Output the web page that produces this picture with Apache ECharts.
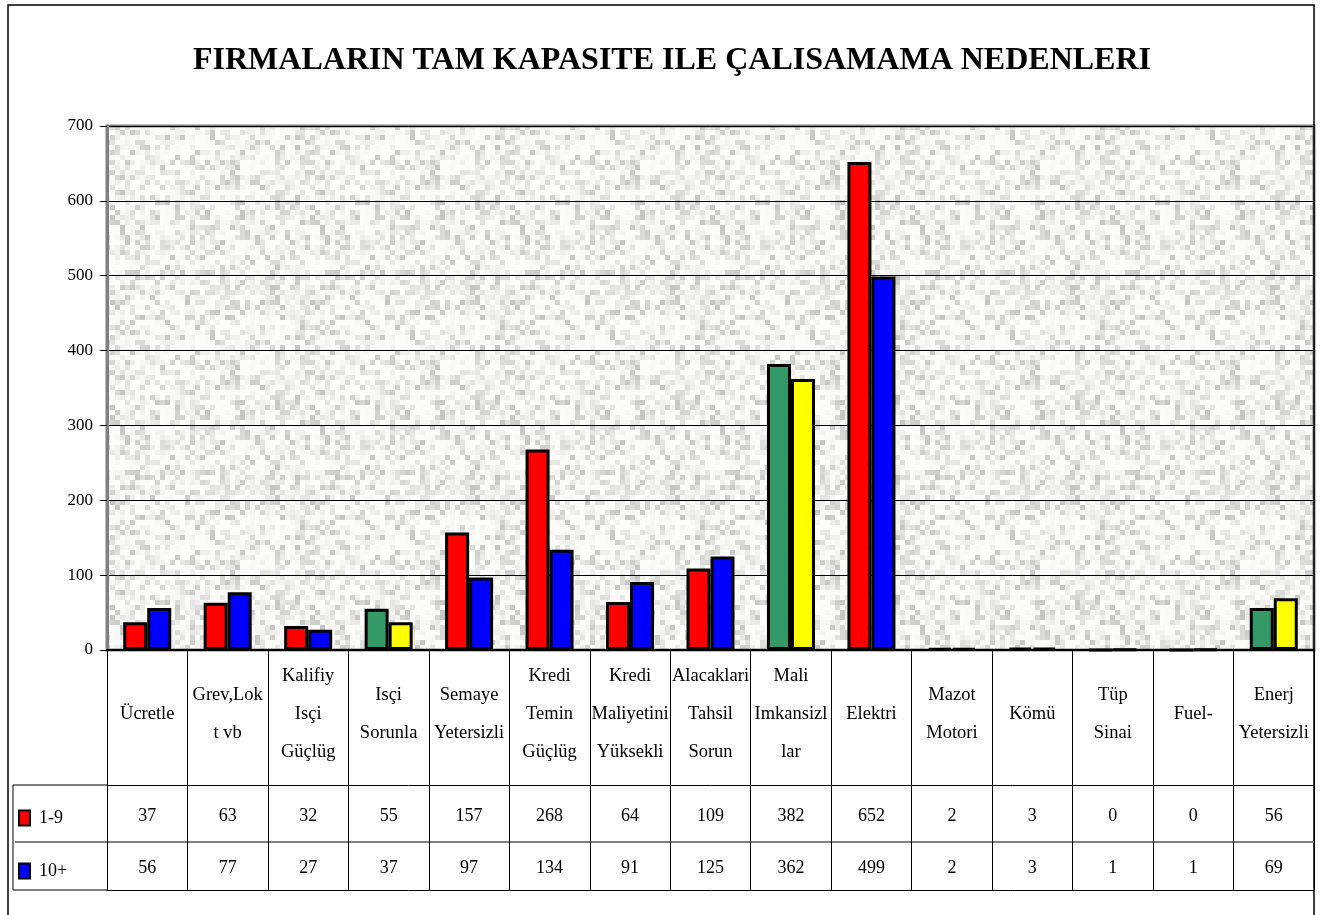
<!DOCTYPE html>
<html>
<head>
<meta charset="utf-8">
<script src="https://cdn.jsdelivr.net/npm/echarts@6/dist/echarts.min.js"></script>
<style>
  html, body { margin: 0; padding: 0; background: #fff; }
  #chart { width: 1323px; height: 915px; }
</style>
</head>
<body>
<div id="chart"></div>
<script>
// category labels, clipped the same way as in the source table
const categories = [
  'Ücretle', 'Grev,Lok\nt vb', 'Kalifiy\nIsçi\nGüçlüg', 'Isçi\nSorunla',
  'Semaye\nYetersizli', 'Kredi\nTemin\nGüçlüg', 'Kredi\nMaliyetini\nYüksekli',
  'Alacaklari\nTahsil\nSorun', 'Mali\nImkansizl\nlar', 'Elektri',
  'Mazot\nMotori', 'Kömü', 'Tüp\nSinai', 'Fuel-', 'Enerj\nYetersizli'
]
const seriesNames = ['1-9', '10+']
const small = [37, 63, 32, 55, 157, 268, 64, 109, 382, 652, 2, 3, 0, 0, 56]
const large = [56, 77, 27, 37, 97, 134, 91, 125, 362, 499, 2, 3, 1, 1, 69]
const yMax = 700
const yStep = 100

// categories drawn in green / yellow instead of red / blue
const highlighted = [3, 8, 14]

const serif = '"Liberation Serif", "Times New Roman", serif'

// speckled grey fill of the plot area
const makeNoise = () => {
  const c = document.createElement('canvas')
  c.width = 200
  c.height = 200
  const ctx = c.getContext('2d')
  let s = 12345
  for (let y = 0; y < 200; y += 5) {
    for (let x = 0; x < 200; x += 5) {
      s = (s * 1103515245 + 12345) & 0x7fffffff
      const r = ((s >> 8) & 1023) / 1023
      const g = Math.round(252 - 55 * r * r * r)
      ctx.fillStyle = `rgb(${g},${g},${g - 1})`
      ctx.fillRect(x, y, 5, 5)
    }
  }
  return c
}

const barData = (values, base, alt) =>
  values.map((v, i) => highlighted.includes(i)
    ? { value: v, itemStyle: { color: alt } }
    : { value: v, itemStyle: { color: base } })

const chart = echarts.init(document.getElementById('chart'))

const tableText = { fontFamily: serif, fontSize: 18, color: '#000' }

const option = {
  animation: false,
  title: {
    text: 'FIRMALARIN TAM KAPASITE ILE ÇALISAMAMA NEDENLERI',
    left: 188,
    top: 40,
    textStyle: { fontFamily: serif, fontSize: 32, fontWeight: 'bold', color: '#000' }
  },
  legend: {
    orient: 'vertical',
    left: 13,
    top: 804,
    itemWidth: 11,
    itemHeight: 15,
    itemGap: 35,
    icon: 'rect',
    textStyle: { fontFamily: serif, fontSize: 18, color: '#000', lineHeight: 18, padding: [0, 0, 0, 4] },
    data: seriesNames
  },
  grid: {
    left: 107,
    right: 9,
    top: 126,
    bottom: 265,
    show: true,
    borderColor: '#808080',
    borderWidth: 3,
    backgroundColor: { image: makeNoise(), repeat: 'repeat' }
  },
  xAxis: [
    {
      type: 'category',
      data: categories,
      axisLine: { lineStyle: { color: '#000', width: 2 } },
      axisTick: { show: true, interval: 0, length: 240, lineStyle: { color: '#000', width: 1 } },
      axisLabel: {
        interval: 0,
        margin: 64,
        verticalAlign: 'middle',
        fontFamily: serif,
        fontSize: 18.5,
        lineHeight: 38,
        color: '#000'
      }
    },
    {
      type: 'category',
      data: categories,
      position: 'bottom',
      offset: 135,
      axisLine: { lineStyle: { color: '#000', width: 1 } },
      axisTick: { show: false },
      axisLabel: {
        ...tableText,
        interval: 0,
        margin: 31,
        verticalAlign: 'middle',
        formatter: (v, i) => String(small[i])
      }
    },
    {
      type: 'category',
      data: categories,
      position: 'bottom',
      offset: 192,
      axisLine: { lineStyle: { color: '#808080', width: 2 } },
      axisTick: { show: false },
      axisLabel: {
        ...tableText,
        interval: 0,
        margin: 26,
        verticalAlign: 'middle',
        formatter: (v, i) => String(large[i])
      }
    },
    {
      type: 'category',
      data: categories,
      position: 'bottom',
      offset: 240,
      axisLine: { lineStyle: { color: '#000', width: 1 } },
      axisTick: { show: true, interval: 0, inside: true, length: 240, lineStyle: { color: '#000', width: 1 } },
      axisLabel: { show: false }
    }
  ],
  yAxis: {
    type: 'value',
    min: 0,
    max: yMax,
    interval: yStep,
    axisLine: { show: true, lineStyle: { color: '#808080', width: 3 } },
    axisTick: { show: true, length: 7, lineStyle: { color: '#000' } },
    axisLabel: { margin: 14, fontFamily: serif, fontSize: 17, color: '#000' },
    splitLine: { lineStyle: { color: '#000', width: 1 } }
  },
  series: [
    {
      name: seriesNames[0],
      type: 'bar',
      barWidth: 24,
      barGap: '0%',
      itemStyle: { color: '#ff0000', borderColor: '#000', borderWidth: 3 },
      data: barData(small, '#ff0000', '#339966')
    },
    {
      name: seriesNames[1],
      type: 'bar',
      barWidth: 24,
      barGap: '0%',
      itemStyle: { color: '#0000ff', borderColor: '#000', borderWidth: 3 },
      data: barData(large, '#0000ff', '#ffff00')
    }
  ],
  graphic: [
    // outer frame
    {
      type: 'rect',
      shape: { x: 8, y: 5, width: 1306, height: 1000 },
      style: { fill: 'none', stroke: '#000', lineWidth: 1.5 },
      silent: true
    },
    // legend column of the data table
    {
      type: 'polyline',
      shape: { points: [[107, 785], [13, 785], [13, 890], [107, 890]] },
      style: { fill: 'none', stroke: '#000', lineWidth: 1 },
      silent: true
    },
    {
      type: 'line',
      shape: { x1: 15, y1: 842, x2: 107, y2: 842 },
      style: { stroke: '#808080', lineWidth: 2 },
      silent: true
    }
  ]
}

chart.setOption(option)

window.addEventListener('resize', () => {
  chart.resize()
})
</script>
</body>
</html>
